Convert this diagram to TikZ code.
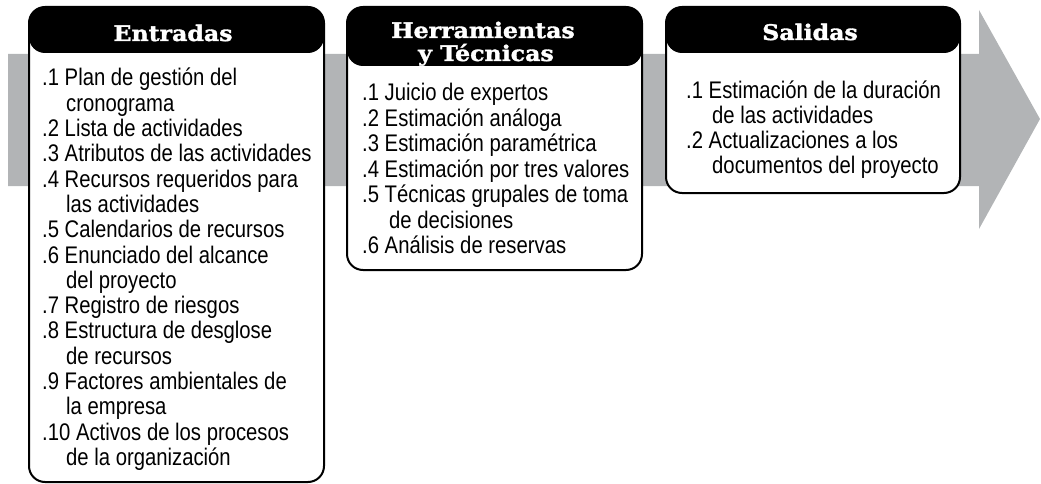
\documentclass[tikz,border=0pt]{standalone}
\usepackage{fontspec}
\setmainfont{Liberation Sans}
\newfontfamily\bodyfont{Liberation Sans}[FakeStretch=0.845]
\newfontfamily\headfont{DejaVu Serif}[FakeStretch=1.1, FakeBold=1.6]
\definecolor{arrowgray}{RGB}{178,180,182}
\newlength\contind
\newcommand\ItemL[1]{\hbox{#1}}
\newcommand\ContL[1]{\hbox{\hspace*{\contind}#1}}
\newcommand\SetLines[2]{\baselineskip=#1\relax\lineskiplimit=-50pt\relax\contind=#2\relax}
\tikzset{
  procbox/.style={draw=black, line width=2pt, fill=white, rounded corners=16pt,
    inner sep=0pt, outer sep=0pt, anchor=north west},
  headfill/.style={path picture={\fill[black] (path picture bounding box.north west)
    rectangle ([yshift=-#1]path picture bounding box.north east);}},
  headtext/.style={font=\headfont\bfseries\fontsize{21.5pt}{24pt}\selectfont,
    text=white, inner sep=0pt, anchor=base},
  bodytext/.style={font=\bodyfont\fontsize{24pt}{25pt}\selectfont,
    inner sep=0pt, anchor=base west},
}
\begin{document}
\begin{tikzpicture}[x=1pt,y=-1pt]
\useasboundingbox (0,0) rectangle (1041,484);
% big gray arrow
\fill[arrowgray] (8,54) -- (979,54) -- (979,10) -- (1040,119) -- (979,229)
  -- (979,186) -- (8,186) -- cycle;
% boxes
\node[procbox, headfill=46pt, minimum width=295pt, minimum height=475pt] (inbox) at (29,7) {};
\node[procbox, headfill=59pt, minimum width=295pt, minimum height=263pt] (ttbox) at (347,7) {};
\node[procbox, headfill=46pt, minimum width=294pt, minimum height=186pt] (outbox) at (666,7) {};
% headings
\node[headtext] (inhead) at (173,41) {Entradas};
\node[headtext] (tthead) at (483,38) {Herramientas};
\node[headtext] (tthead2) at (486,61) {y Técnicas};
\node[headtext] (outhead) at (810,40) {Salidas};
% body texts
\node[bodytext] (intext) at (42,86) {\vtop{\SetLines{25.3pt}{24pt}%
  \ItemL{.1 Plan de gestión del}
  \ContL{cronograma}
  \ItemL{.2 Lista de actividades}
  \ItemL{.3 Atributos de las actividades}
  \ItemL{.4 Recursos requeridos para}
  \ContL{las actividades}
  \ItemL{.5 Calendarios de recursos}
  \ItemL{.6 Enunciado del alcance}
  \ContL{del proyecto}
  \ItemL{.7 Registro de riesgos}
  \ItemL{.8 Estructura de desglose}
  \ContL{de recursos}
  \ItemL{.9 Factores ambientales de}
  \ContL{la empresa}
  \ItemL{.10 Activos de los procesos}
  \ContL{de la organización}}};
\node[bodytext] (tttext) at (362,101) {\vtop{\SetLines{25.5pt}{27pt}%
  \ItemL{.1 Juicio de expertos}
  \ItemL{.2 Estimación análoga}
  \ItemL{.3 Estimación paramétrica}
  \ItemL{.4 Estimación por tres valores}
  \ItemL{.5 Técnicas grupales de toma}
  \ContL{de decisiones}
  \ItemL{.6 Análisis de reservas}}};
\node[bodytext] (outtext) at (686,99) {\vtop{\SetLines{25pt}{26pt}%
  \ItemL{.1 Estimación de la duración}
  \ContL{de las actividades}
  \ItemL{.2 Actualizaciones a los}
  \ContL{documentos del proyecto}}};
\end{tikzpicture}
\end{document}
